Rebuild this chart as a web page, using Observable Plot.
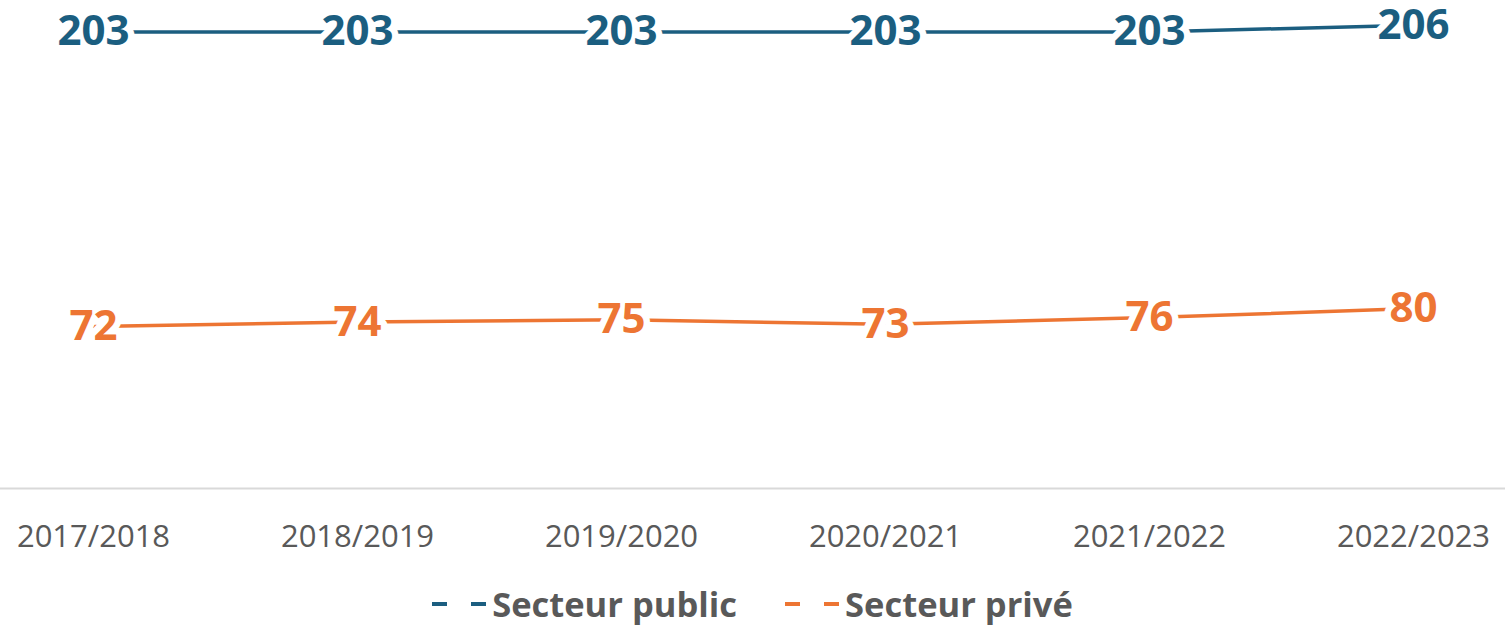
<!DOCTYPE html>
<html><head><meta charset="utf-8">
<script src="https://cdn.jsdelivr.net/npm/d3@7"></script>
<script src="https://cdn.jsdelivr.net/npm/@observablehq/plot@0.6"></script>
<style>
body{margin:0;background:#fff;font-family:"Open Sans",sans-serif;width:1505px;overflow:hidden}
#legend{display:flex;justify-content:center;align-items:center;height:47px;padding-top:4px;box-sizing:border-box}
.item{display:flex;align-items:center;font-weight:bold;font-size:34.5px;color:#595959;margin:0 24px}
.item svg{margin-right:3px}
</style>
</head><body>
<div id="chart"></div>
<div id="legend"></div>
<script>
const years = ["2017/2018","2018/2019","2019/2020","2020/2021","2021/2022","2022/2023"];
const publicValues = [203,203,203,203,203,206];
const priveValues = [72,74,75,73,76,80];
const seriesNames = ["Secteur public","Secteur privé"];
const colors = ["#1b5e80","#ed7533"];

const data = years.flatMap((y,i)=>[
  {year:y, value:publicValues[i], series:seriesNames[0]},
  {year:y, value:priveValues[i], series:seriesNames[1]}
]);

const chart = Plot.plot({
  width:1505, height:578,
  marginTop:0, marginLeft:0, marginRight:0, marginBottom:90,
  x:{type:"point", domain:years, padding:0.342, label:null},
  y:{domain:[0,217], axis:null},
  color:{domain:seriesNames, range:colors},
  style:{fontFamily:"Open Sans", background:"white", overflow:"visible"},
  marks:[
    Plot.ruleY([0],{stroke:"#d9d9d9", strokeWidth:2}),
    Plot.line(data,{x:"year", y:"value", z:"series", stroke:"series", strokeWidth:3.5}),
    Plot.text(data,{x:"year", y:"value", text:d=>String(d.value), fill:"series", stroke:"white", strokeWidth:13, fontSize:42, fontWeight:"bold"}),
    Plot.axisX({tickSize:0, tickPadding:36, fontSize:31, fill:"#595959", label:null})
  ]
});
document.getElementById("chart").appendChild(chart);

const legend = d3.select("#legend");
seriesNames.forEach((name,i)=>{
  const it = legend.append("div").attr("class","item");
  const s = it.append("svg").attr("width",57).attr("height",10);
  s.append("line").attr("x1",0).attr("x2",57).attr("y1",5).attr("y2",5)
    .attr("stroke",colors[i]).attr("stroke-width",4).attr("stroke-dasharray","15,24");
  it.append("span").text(name);
});
</script>
</body></html>
